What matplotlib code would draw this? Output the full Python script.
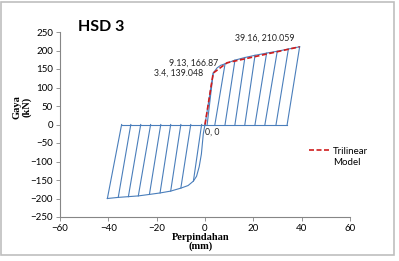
"""HSD 3 hysteresis curve with trilinear model overlay."""

import matplotlib
matplotlib.use("Agg")
import matplotlib.pyplot as plt
from matplotlib.lines import Line2D
from matplotlib.patches import Rectangle

# loading lines, positive side: start on the zero line -> peak
pos_start = [0.9, 4.1, 8.3, 12.4, 16.5, 20.7, 24.8, 29.4, 34.0]
pos_disp = [3.4, 8.3, 12.4, 16.5, 20.7, 25.5, 29.9, 34.5, 39.16]
pos_force = [139.0, 164.0, 174.0, 181.0, 187.0, 193.0, 198.0, 204.0, 210.059]

# loading lines, negative side
neg_start = [-1.4, -5.9, -10.0, -14.2, -18.3, -22.5, -26.6, -30.7, -34.5]
neg_disp = [-4.8, -10.0, -14.2, -18.6, -23.0, -27.6, -31.7, -35.9, -40.4]
neg_force = [-153.0, -172.0, -180.0, -185.0, -189.0, -193.0, -195.0, -197.0, -200.0]

# envelope curves (backbone)
env_pos_disp = [0.0, 3.4, 5.0, 6.5, 8.3, 12.4, 16.5, 20.7, 25.5, 29.9, 34.5, 39.16]
env_pos_force = [0.0, 139.0, 153.0, 160.0, 164.0, 174.0, 181.0, 187.0, 193.0, 198.0, 204.0, 210.059]
env_neg_disp = [0.0, -0.7, -1.5, -2.4, -3.5, -4.8, -7.0, -10.0, -14.2, -18.6, -23.0,
                -27.6, -31.7, -35.9, -40.4]
env_neg_force = [0.0, -25.0, -80.0, -114.0, -140.0, -153.0, -165.0, -172.0, -180.0,
                 -185.0, -189.0, -193.0, -195.0, -197.0, -200.0]

# zero-force plateau
zero_disp = [-34.5, 34.0]
zero_force = [0.0, 0.0]

# trilinear model
tri_disp = [0.0, 3.4, 9.13, 39.16]
tri_force = [0.0, 139.048, 166.87, 210.059]

BLUE = "#4A7EBB"
RED = "#D01C1C"
GRAY = "#868686"

fig = plt.figure(figsize=(3.99, 2.61), dpi=100)
ax = fig.add_axes([60 / 399, 1 - 217 / 261, 290 / 399, 185 / 261])

lw = 0.8
ax.plot(zero_disp, zero_force, color=BLUE, lw=lw)
for xs, xp, fp in zip(pos_start, pos_disp, pos_force):
    ax.plot([xs, xp], [0, fp], color=BLUE, lw=lw)
for xs, xp, fp in zip(neg_start, neg_disp, neg_force):
    ax.plot([xs, xp], [0, fp], color=BLUE, lw=lw)
ax.plot(env_pos_disp, env_pos_force, color=BLUE, lw=lw)
ax.plot(env_neg_disp, env_neg_force, color=BLUE, lw=lw)

tri_line, = ax.plot(tri_disp, tri_force, color=RED, lw=1.2, ls=(0, (3, 1.5)))

# data labels on the trilinear points
lab_font = dict(fontsize=6.3, family="Lato", color="#222222")
ax.annotate("0, 0", (tri_disp[0], tri_force[0]), xytext=(0, -2),
            textcoords="offset points", ha="left", va="top", **lab_font)
ax.annotate(f"{tri_disp[1]}, {tri_force[1]}", (tri_disp[1], tri_force[1]),
            xytext=(-7, 0), textcoords="offset points", ha="right", va="center", **lab_font)
ax.annotate(f"{tri_disp[2]}, {tri_force[2]}", (tri_disp[2], tri_force[2]),
            xytext=(-6, 0), textcoords="offset points", ha="right", va="center", **lab_font)
ax.annotate(f"{tri_disp[3]}, {tri_force[3]}", (tri_disp[3], tri_force[3]),
            xytext=(-4, 3), textcoords="offset points", ha="right", va="bottom", **lab_font)

ax.set_xlim(-60, 60)
ax.set_ylim(-250, 250)
ax.set_xticks(range(-60, 61, 20))
ax.set_yticks(range(-250, 251, 50))
ax.tick_params(labelsize=7, length=3, width=0.6, color=GRAY, pad=2)
for lbl in ax.get_xticklabels() + ax.get_yticklabels():
    lbl.set_family("Lato")
for side in ("top", "right"):
    ax.spines[side].set_visible(False)
for side in ("left", "bottom"):
    ax.spines[side].set_color(GRAY)
    ax.spines[side].set_linewidth(0.8)

# legend: handle sits next to the first line of the wrapped label
blank = Line2D([], [], color="none")
ax.legend([tri_line, blank], ["Trilinear", "Model"], loc="upper left",
          bbox_to_anchor=(304 / 399, 1 - 142 / 261),
          bbox_transform=fig.transFigure, frameon=False, handlelength=2.2,
          handletextpad=0.3, borderpad=0, labelspacing=0.25,
          prop={"family": "Lato", "size": 7})

fig.text(78 / 399, 1 - 27 / 261, "HSD 3", fontsize=11.5, fontweight="bold",
         family="Lato", ha="left", va="center")
fig.text(22 / 399, 1 - 107 / 261, "Gaya\n(kN)", rotation=90, fontsize=7.5,
         fontweight="bold", family="Liberation Serif", ha="center", va="center",
         linespacing=1.0)
fig.text(201 / 399, 1 - 242 / 261, "Perpindahan\n(mm)", fontsize=7.5,
         fontweight="bold", family="Liberation Serif", ha="center", va="center",
         linespacing=1.0)

# chart-area frame
fig.patches.append(Rectangle((1 / 399, 1 - 255 / 261), 393 / 399, 253 / 261,
                             transform=fig.transFigure, fill=False,
                             edgecolor="#BFBFBF", lw=1.2))

fig.savefig("out.png", dpi=100)
